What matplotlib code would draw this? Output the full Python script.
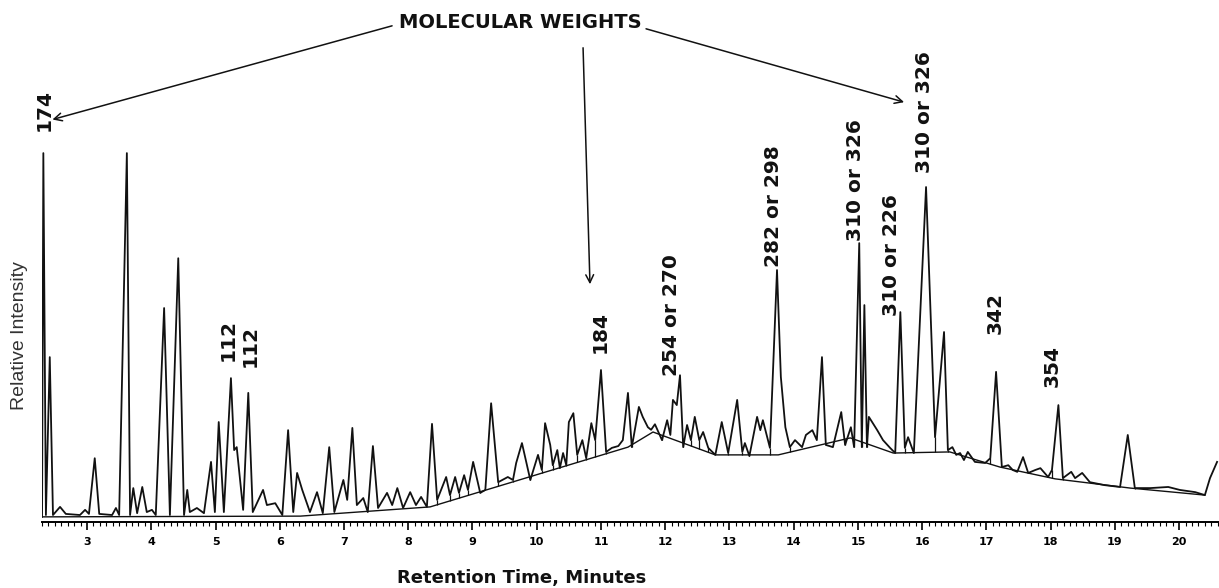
import numpy as np
import matplotlib
matplotlib.use('Agg')
import matplotlib.pyplot as plt
from matplotlib.ticker import MultipleLocator

# chromatogram trace: retention time (min) / relative intensity
trace_t = [2.30, 2.32, 2.36, 2.42, 2.47, 2.58, 2.67, 2.89, 2.97, 3.03, 3.12, 3.19, 3.39, 3.45, 3.50,
           3.62, 3.67, 3.72, 3.78, 3.86, 3.93, 4.01, 4.07, 4.20, 4.29, 4.42, 4.51, 4.56, 4.60, 4.71,
           4.82, 4.93, 4.99, 5.05, 5.13, 5.24, 5.29, 5.33, 5.43, 5.51, 5.58, 5.74, 5.80, 5.93, 6.04,
           6.13, 6.21, 6.27, 6.35, 6.47, 6.58, 6.67, 6.77, 6.85, 6.99, 7.05, 7.13, 7.20, 7.30, 7.37,
           7.45, 7.53, 7.67, 7.75, 7.83, 7.92, 8.03, 8.12, 8.20, 8.29, 8.37, 8.45, 8.59, 8.65, 8.73,
           8.79, 8.87, 8.93, 9.01, 9.12, 9.20, 9.29, 9.40, 9.55, 9.63, 9.68, 9.77, 9.90, 10.02, 10.08,
           10.13, 10.21, 10.25, 10.32, 10.36, 10.41, 10.46, 10.50, 10.57, 10.63, 10.71, 10.77, 10.85, 10.91, 11.00,
           11.08, 11.17, 11.27, 11.34, 11.42, 11.48, 11.59, 11.65, 11.73, 11.78, 11.84, 11.95, 12.03, 12.08, 12.12,
           12.18, 12.23, 12.28, 12.34, 12.40, 12.46, 12.53, 12.59, 12.67, 12.78, 12.88, 12.98, 13.12, 13.20, 13.24,
           13.31, 13.43, 13.48, 13.52, 13.63, 13.74, 13.80, 13.87, 13.94, 14.02, 14.13, 14.19, 14.29, 14.36, 14.44,
           14.50, 14.61, 14.74, 14.80, 14.89, 14.94, 15.02, 15.06, 15.10, 15.14, 15.17, 15.30, 15.39, 15.50, 15.58,
           15.66, 15.73, 15.78, 15.87, 16.06, 16.20, 16.34, 16.40, 16.47, 16.53, 16.59, 16.65, 16.71, 16.82, 16.98,
           17.06, 17.15, 17.24, 17.34, 17.41, 17.48, 17.57, 17.65, 17.76, 17.84, 17.96, 18.02, 18.12, 18.19, 18.32,
           18.38, 18.49, 18.61, 18.84, 19.08, 19.20, 19.31, 19.55, 19.83, 20.01, 20.25, 20.40, 20.48, 20.59]
trace_i = [1.4, 100, 1.9, 44.7, 1.9, 4.1, 2.2, 1.9, 3.3, 2.2, 17.3, 2.2, 1.9, 3.8, 1.9,
           100, 1.9, 9.2, 2.4, 9.5, 2.7, 3.3, 1.9, 58.0, 1.9, 71.5, 1.9, 8.7, 2.7, 3.8,
           2.4, 16.3, 2.7, 27.1, 2.7, 39.0, 19.5, 20.3, 3.3, 35.0, 2.7, 8.7, 4.6, 5.1, 1.9,
           24.9, 2.7, 13.3, 8.7, 2.7, 8.1, 2.4, 20.3, 2.7, 11.4, 6.0, 25.5, 4.6, 6.5, 2.7,
           20.6, 3.8, 7.9, 4.6, 9.2, 3.8, 8.1, 4.6, 6.8, 4.1, 26.6, 6.0, 12.2, 7.3, 12.2,
           7.9, 12.7, 8.7, 16.3, 7.9, 8.7, 32.2, 10.8, 12.2, 11.4, 16.0, 21.4, 11.4, 18.2, 14.1,
           26.8, 20.9, 15.4, 19.5, 14.6, 18.7, 15.4, 27.1, 29.5, 18.2, 22.2, 17.3, 26.8, 22.2, 41.2,
           19.0, 20.1, 20.6, 22.2, 35.0, 20.3, 31.2, 28.5, 25.7, 25.0, 26.5, 22.2, 27.6, 23.6, 33.1,
           31.7, 39.8, 20.3, 26.3, 22.2, 28.5, 22.2, 24.4, 20.1, 18.2, 27.1, 18.7, 33.1, 19.0, 21.4,
           17.9, 28.5, 24.9, 27.6, 20.1, 68.3, 39.3, 25.7, 20.3, 22.2, 20.3, 23.6, 24.9, 22.2, 44.7,
           20.9, 20.3, 29.8, 20.9, 25.7, 20.3, 75.6, 20.3, 58.8, 20.3, 28.5, 24.9, 22.2, 20.1, 18.7,
           56.9, 20.1, 23.0, 18.7, 90.8, 23.0, 51.5, 19.5, 20.3, 18.2, 18.7, 16.8, 19.0, 16.3, 16.0,
           17.3, 40.7, 14.9, 15.4, 14.1, 13.6, 17.6, 13.3, 14.1, 14.6, 12.2, 14.1, 31.7, 11.9, 13.6,
           11.9, 13.3, 10.8, 10.0, 9.5, 23.6, 9.2, 9.2, 9.5, 8.7, 8.1, 7.3, 11.9, 16.3]

# integration baseline drawn under the trace
base_t = [2.30, 6.32, 8.34, 11.42, 11.81, 12.78, 13.76, 14.88, 15.55, 16.43, 17.21, 18.07, 19.24, 20.40]
base_i = [1.4, 1.6, 4.1, 20.3, 24.4, 18.2, 18.2, 22.8, 18.7, 19.0, 14.9, 11.7, 9.2, 7.3]

# valleys with a drop line to the baseline
drop_t = [8.45, 8.65, 8.79, 8.93, 9.12, 9.40, 9.63, 9.90, 10.08, 10.25, 10.36, 10.46, 10.63, 10.77,
          10.91, 11.08, 11.48, 11.95, 12.28, 12.40, 12.53, 12.67, 12.98, 13.20, 13.31, 13.63, 13.94,
          14.50, 14.80, 14.94, 15.06, 15.14, 15.58, 15.73, 15.87, 16.20, 16.40, 17.06, 17.24, 18.02,
          18.19, 19.08, 19.31]

minutes = list(range(3, 21))

fig = plt.figure(figsize=(12.19, 5.88), dpi=100)
ax = fig.add_axes([0.0345, 0.1122, 0.9655, 0.8878])
ax.set_xlim(2.30, 20.62)
ax.set_ylim(0, 141.5)

ax.plot(trace_t, trace_i, color='#111111', lw=1.3)
ax.plot(base_t, base_i, color='#111111', lw=1.0)
d_lo = np.interp(drop_t, base_t, base_i)
d_hi = np.interp(drop_t, trace_t, trace_i)
ax.vlines(drop_t, d_lo, d_hi, color='#111111', lw=0.9)

for s in ['top', 'right', 'left']:
    ax.spines[s].set_visible(False)
ax.spines['bottom'].set_linewidth(1.4)
ax.set_yticks([])
ax.set_xticks(minutes)
ax.set_xticklabels([str(m) for m in minutes], fontsize=8, fontweight='bold')
ax.xaxis.set_minor_locator(MultipleLocator(0.1))
ax.tick_params(axis='x', which='major', length=6, width=1.2, pad=5)
ax.tick_params(axis='x', which='minor', length=3, width=0.8)

lab = dict(rotation=90, ha='center', va='center', fontsize=14.5, fontweight='bold', color='#111111')
ax.text(2.33, 111.7, '174', **lab)
ax.text(5.19, 49.3, '112', **lab)
ax.text(5.54, 47.7, '112', **lab)
ax.text(10.99, 51.5, '184', **lab)
ax.text(12.09, 56.1, '254 or 270', **lab)
ax.text(13.68, 85.6, '282 or 298', **lab)
ax.text(14.96, 92.7, '310 or 326', **lab)
ax.text(15.52, 72.4, '310 or 226', **lab)
ax.text(16.03, 111.1, '310 or 326', **lab)
ax.text(17.13, 56.6, '342', **lab)
ax.text(18.02, 42.3, '354', **lab)

ax.text(9.74, 135.5, 'MOLECULAR WEIGHTS', ha='center', va='center', fontsize=14,
        fontweight='bold', color='#111111')
arr = dict(arrowstyle='->', color='#111111', lw=1.1, mutation_scale=14)
ax.annotate('', xy=(2.42, 108.9), xytext=(7.79, 134.7), arrowprops=arr)
ax.annotate('', xy=(10.83, 63.7), xytext=(10.72, 129.3), arrowprops=arr)
ax.annotate('', xy=(15.76, 113.6), xytext=(11.66, 133.9), arrowprops=arr)

fig.text(0.0164, 0.43, 'Relative Intensity', rotation=90, ha='center', va='center',
         fontsize=14, family='Liberation Sans', color='#333333')
fig.text(0.428, 0.017, 'Retention Time, Minutes', ha='center', va='center',
         fontsize=13, fontweight='bold', color='#111111')

fig.savefig('out.png', dpi=100)
